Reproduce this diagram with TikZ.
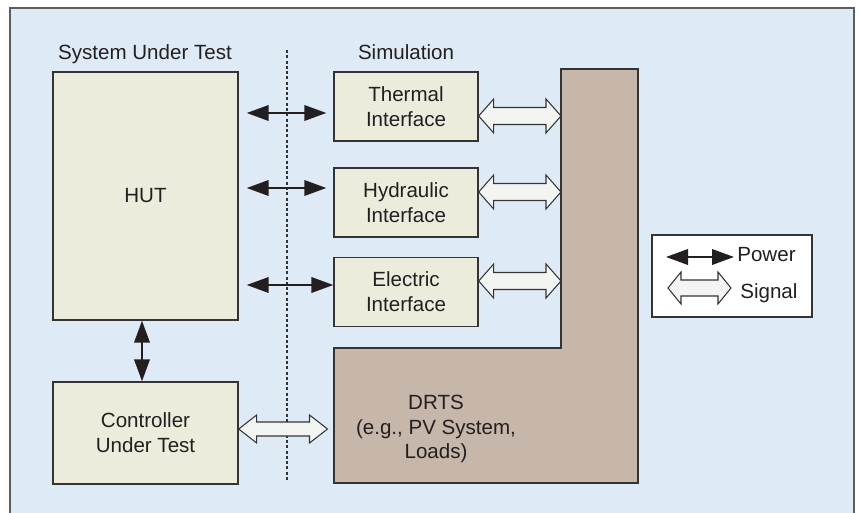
\documentclass[tikz,border=0pt]{standalone}
\usepackage{fontspec}
\setmainfont{Liberation Sans}
\usetikzlibrary{arrows.meta,calc}

\definecolor{bgblue}{RGB}{222,235,247}
\definecolor{boxfill}{RGB}{236,236,220}
\definecolor{drtsfill}{RGB}{199,182,170}
\definecolor{sigfill}{RGB}{243,245,243}
\definecolor{edge}{RGB}{52,52,52}
\definecolor{ink}{RGB}{35,31,32}

\tikzset{
  lbl/.style={font=\fontsize{11.7}{14.2}\selectfont, text=ink, align=center, inner sep=0pt},
  box/.style={lbl, draw=edge, line width=0.8pt, fill=boxfill},
  pow/.style={line width=1.2pt, draw=ink,
    {Triangle[length=0.44cm,width=0.31cm]}-{Triangle[length=0.44cm,width=0.31cm]}},
  sig/.style={draw=edge, line width=0.6pt, fill=sigfill, line join=miter},
  % hollow double-headed arrow: #1 head length, #2 head half width, #3 shaft half width
  sigarrow/.style n args={3}{to path={let \p1=(\tikztostart), \p2=(\tikztotarget) in
    (\x1,\y1) -- (\x1+#1,\y1+#2) -- (\x1+#1,\y1+#3) -- (\x2-#1,\y1+#3)
    -- (\x2-#1,\y1+#2) -- (\x2,\y1) -- (\x2-#1,\y1-#2) -- (\x2-#1,\y1-#3)
    -- (\x1+#1,\y1-#3) -- (\x1+#1,\y1-#2) -- cycle}},
}

\begin{document}
\begin{tikzpicture}[x=0.02cm,y=-0.02cm]
\useasboundingbox (0,0) rectangle (859,513);

% panel
\draw[fill=bgblue, draw=edge!80, line width=0.9pt] (10,8) rectangle (854,518);

% column headings and divider
\node[lbl, anchor=base] (sutlabel) at (145,60) {System Under Test};
\node[lbl, anchor=base] (simlabel) at (406,60) {Simulation};
\draw[edge, line width=0.6pt, dash pattern=on 1.7pt off 1.3pt] (287,50) -- (287,482);

% system under test
\node[box, minimum width=3.70cm, minimum height=4.96cm] (hut) at (145.5,196) {HUT};
\node[box, minimum width=3.70cm, minimum height=2.04cm] (cut) at (145.5,433) {Controller\\Under Test};

% interfaces
\node[box, minimum width=2.88cm, minimum height=1.38cm] (thermal) at (406,106.5) {Thermal\\Interface};
\node[box, minimum width=2.88cm, minimum height=1.38cm] (hydraulic) at (406,202.5) {Hydraulic\\Interface};
\node[box, minimum width=2.88cm, minimum height=1.38cm] (electric) at (406,292) {Electric\\Interface};

% real-time simulator block
\draw[fill=drtsfill, draw=edge, line width=0.8pt]
  (334,348) -- (561,348) -- (561,69) -- (638,69) -- (638,483) -- (334,483) -- cycle;
\coordinate (drtsV) at (561,69);
\coordinate (drtsH) at (334,348);
\node[lbl] (drts) at (436,429) {DRTS\\(e.g., PV System,\\Loads)};

% power links
\coordinate (thP) at ([yshift=-0.13cm]thermal.west);
\coordinate (hyP) at ([yshift=0.29cm]hydraulic.west);
\coordinate (elP) at ([yshift=0.14cm]electric.west);
\draw[pow, shorten <=0.16cm, shorten >=0.14cm] (hut.east |- thP) -- (thP);
\draw[pow, shorten <=0.16cm, shorten >=0.14cm] (hut.east |- hyP) -- (hyP);
\draw[pow, shorten <=0.16cm] (hut.east |- elP) -- (elP);
\draw[pow] ([xshift=-0.07cm]hut.south) -- ([xshift=-0.07cm]cut.north);

% signal links
\coordinate (thS) at ([yshift=-0.19cm]thermal.east);
\coordinate (hyS) at ([yshift=0.21cm]hydraulic.east);
\coordinate (elS) at ([yshift=0.22cm]electric.east);
\draw[sig] (thS) to[sigarrow={0.30cm}{0.34cm}{0.17cm}] (drtsV |- thS);
\draw[sig] (hyS) to[sigarrow={0.30cm}{0.34cm}{0.17cm}] (drtsV |- hyS);
\draw[sig] (elS) to[sigarrow={0.30cm}{0.34cm}{0.17cm}] (drtsV |- elS);
\coordinate (cS) at ([yshift=0.08cm]cut.east);
\path (drtsH |- cS) coordinate (cSd);
\draw[sig] (cS) to[sigarrow={0.36cm}{0.28cm}{0.14cm}] ([xshift=-0.13cm]cSd);

% legend
\node[draw=edge, fill=white, line width=0.8pt, minimum width=3.20cm, minimum height=1.64cm, inner sep=0pt]
  (legend) at (732,276) {};
\node[lbl, anchor=base west] (powlbl) at (737,262) {Power};
\node[lbl, anchor=base west] (siglbl) at (740,298) {Signal};
\coordinate (lp1) at (666,257);
\coordinate (lp2) at (734,257);
\draw[pow] (lp1) -- (lp2);
\coordinate (ls1) at (668,288);
\coordinate (ls2) at (731,288);
\draw[sig] (ls1) to[sigarrow={0.26cm}{0.32cm}{0.16cm}] (ls2);
\end{tikzpicture}
\end{document}
